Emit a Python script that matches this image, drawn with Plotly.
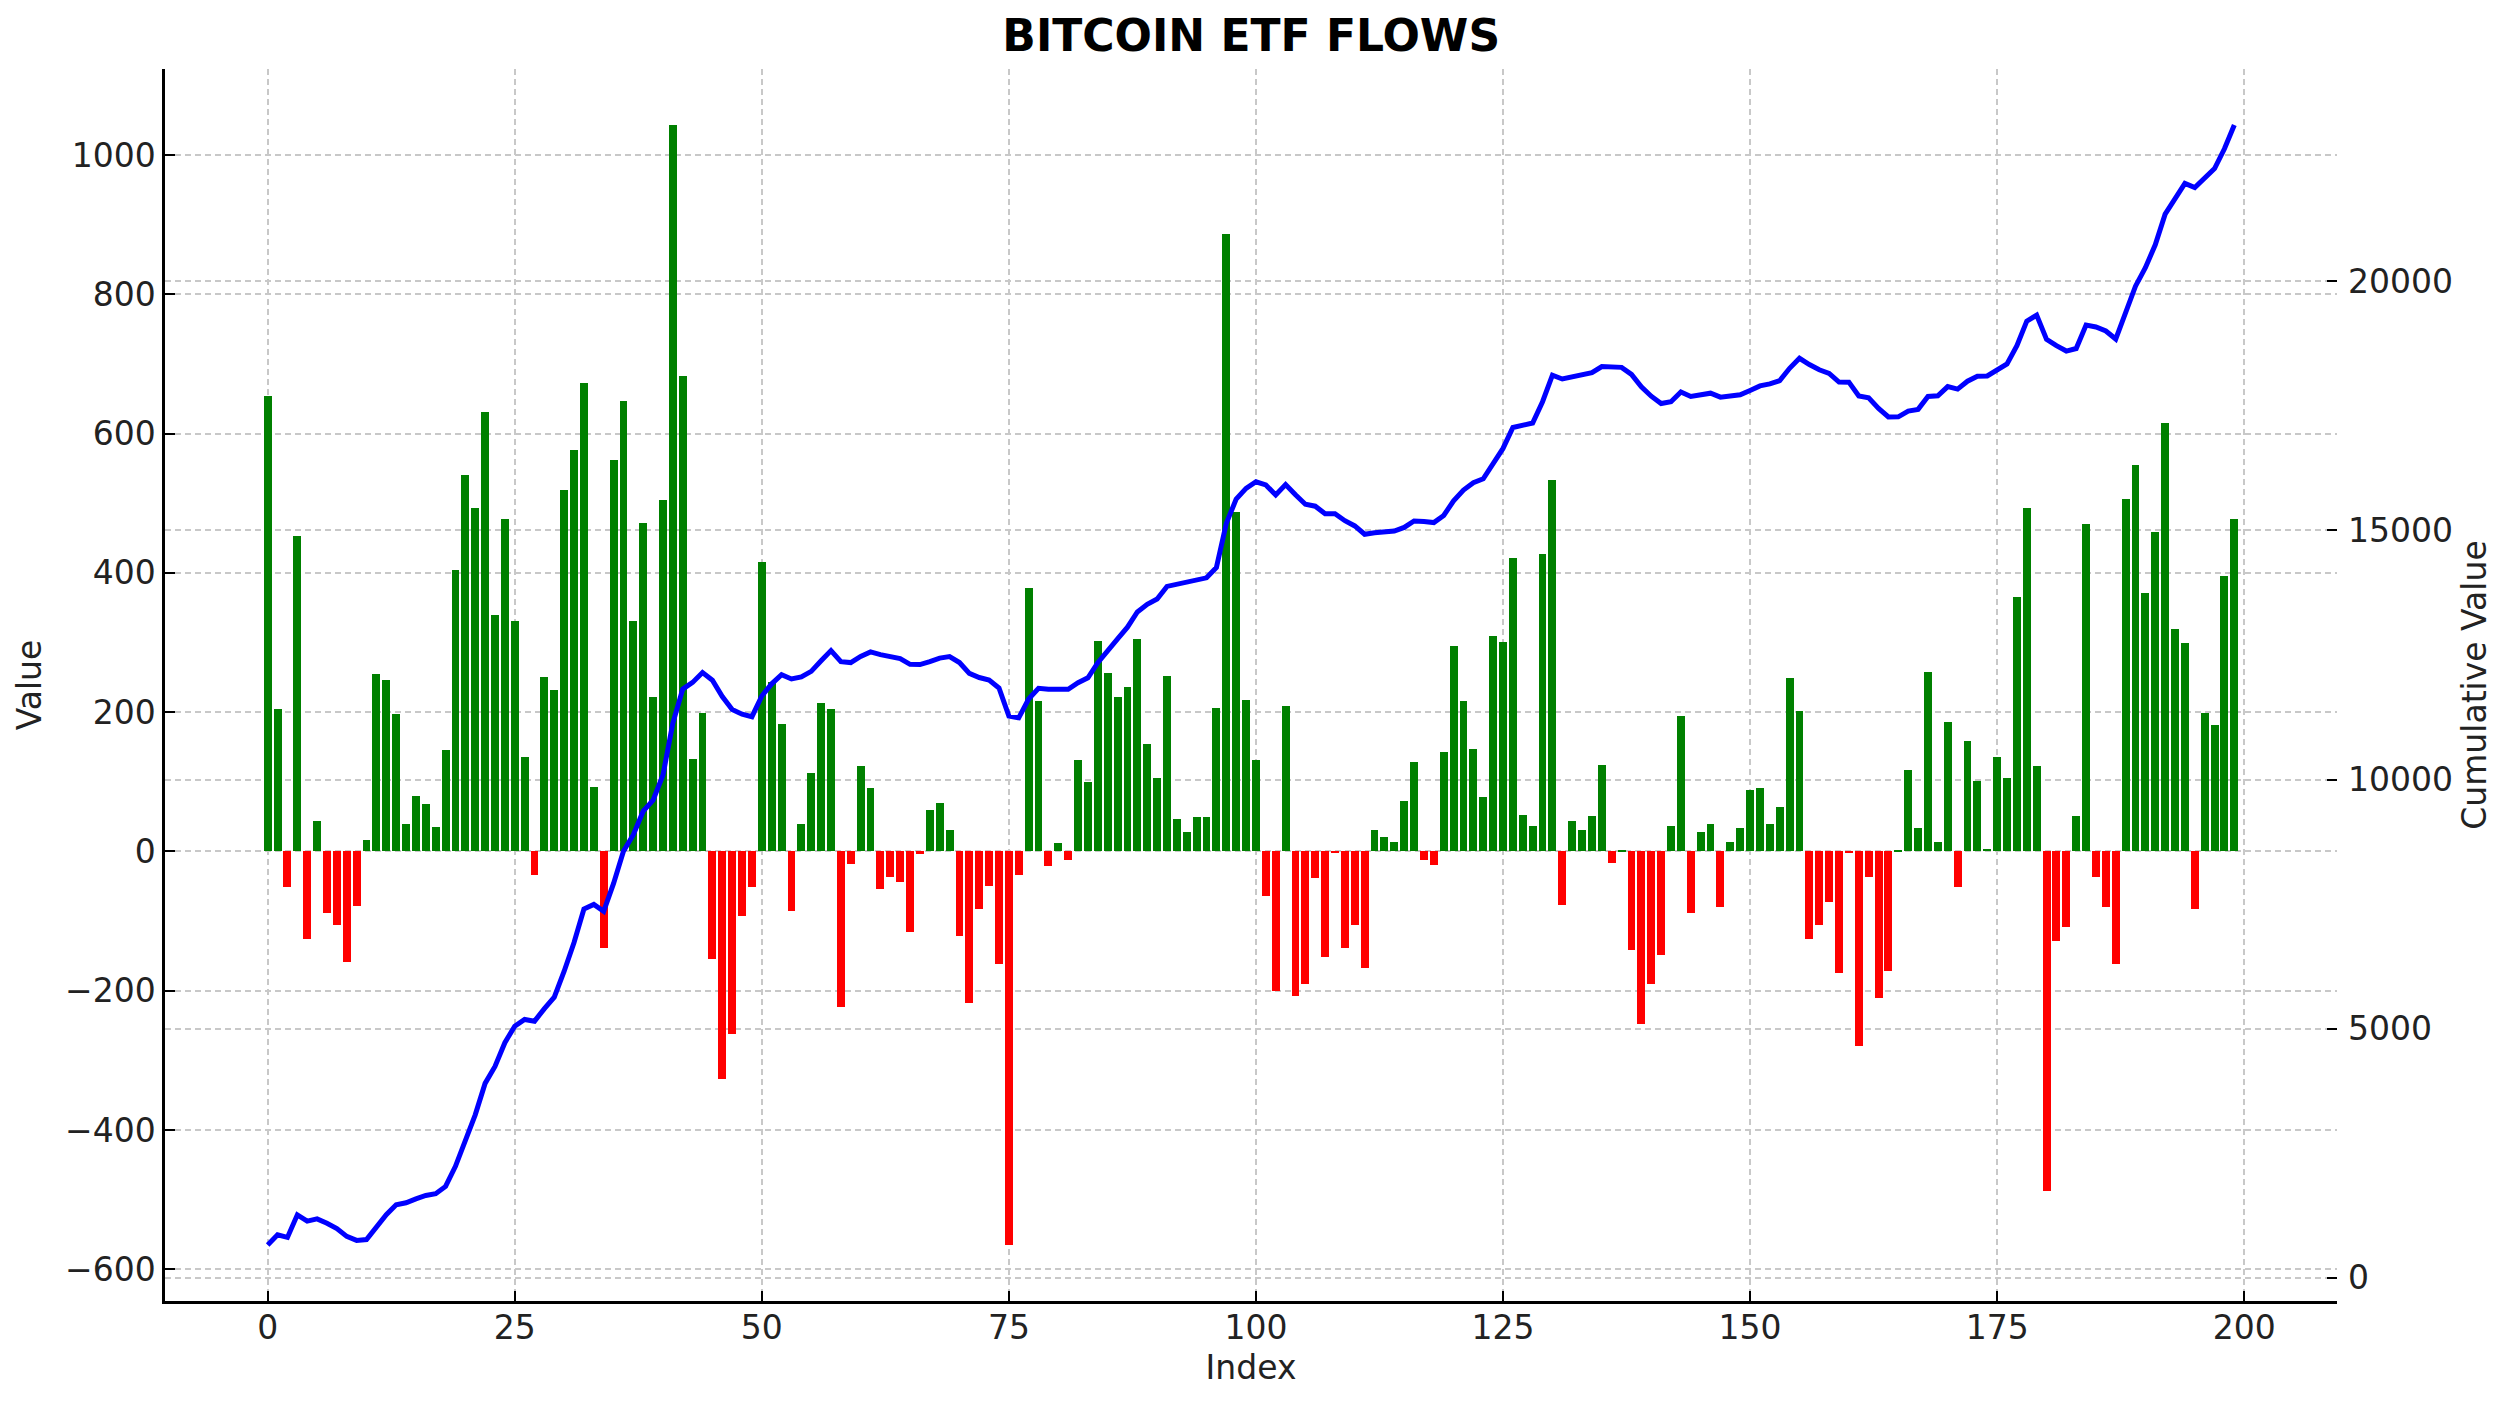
import numpy as np
import plotly.graph_objects as go

title = "BITCOIN ETF FLOWS"
x_label = "Index"
y_label = "Value"
y2_label = "Cumulative Value"

values = [
    654, 204, -51, 453, -126, 44, -88, -106, -158, -79,
    16, 255, 246, 198, 39, 80, 68, 35, 146, 404,
    541, 493, 631, 340, 477, 331, 135, -34, 251, 232,
    519, 576, 672, 93, -139, 562, 647, 331, 472, 222,
    505, 1043, 682, 133, 199, -154, -327, -262, -93, -51,
    416, 244, 183, -85, 40, 113, 213, 204, -224, -18,
    123, 91, -54, -36, -44, -115, -4, 60, 70, 31,
    -121, -218, -83, -49, -161, -565, -34, 378, 216, -21,
    12, -12, 132, 100, 302, 256, 222, 236, 305, 155,
    106, 252, 46, 28, 49, 49, 206, 887, 487, 218,
    131, -64, -200, 209, -207, -190, -38, -152, -1, -139,
    -105, -167, 31, 21, 13, 73, 128, -12, -20, 143,
    295, 216, 147, 78, 309, 301, 421, 53, 37, 427,
    533, -77, 44, 31, 51, 124, -17, 1, -141, -248,
    -190, -148, 36, 195, -89, 28, 39, -80, 13, 34,
    88, 91, 40, 64, 249, 201, -126, -105, -72, -175,
    -1, -279, -37, -211, -171, 1, 117, 34, 258, 13,
    186, -51, 159, 101, 4, 136, 106, 365, 493, 123,
    -487, -128, -108, 51, 470, -37, -80, -162, 506, 555,
    371, 459, 615, 319, 300, -82, 199, 181, 396, 478,
]
index = list(range(len(values)))
cumulative = np.cumsum(values)

x_ticks = [0, 25, 50, 75, 100, 125, 150, 175, 200]
y_ticks = [-600, -400, -200, 0, 200, 400, 600, 800, 1000]
y2_ticks = [0, 5000, 10000, 15000, 20000]

bar_colors = ["green" if v >= 0 else "red" for v in values]

FONT = "DejaVu Sans"
GRID = "#c8c8c8"
TXT = "#222222"

def padded(lo, hi, frac=0.05):
    span = hi - lo
    return [lo - frac * span, hi + frac * span]

bar_lo = min(0, min(values))
bar_hi = max(0, max(values))
y_range = padded(bar_lo, bar_hi)
y2_range = padded(float(cumulative.min()), float(cumulative.max()))
x_range = padded(-0.4, len(values) - 1 + 0.4)

fig = go.Figure()
fig.add_trace(go.Bar(
    x=index, y=values, width=0.8,
    marker=dict(color=bar_colors, line=dict(width=0)),
    showlegend=False,
))
fig.add_trace(go.Scatter(
    x=index, y=cumulative, mode="lines", yaxis="y2",
    line=dict(color="blue", width=5),
    showlegend=False,
))

axis_common = dict(
    ticks="inside", ticklen=10, tickwidth=2, tickcolor="black",
    tickfont=dict(family=FONT, size=33, color=TXT),
    showgrid=True, gridcolor=GRID, gridwidth=1.6, griddash="6px,4px",
    zeroline=False,
)

fig.update_layout(
    width=2515, height=1409,
    margin=dict(l=165, r=178, t=69, b=108),
    paper_bgcolor="white", plot_bgcolor="white",
    font=dict(family=FONT, color=TXT),
    title=dict(text="<b>" + title + "</b>", x=0.4975, xanchor="center",
               y=1 - 36 / 1409, yanchor="middle", yref="container",
               font=dict(family=FONT, size=44, color="black")),
    bargap=0,
    xaxis=dict(
        range=x_range, tickvals=x_ticks,
        showline=True, linecolor="black", linewidth=2.5,
        title=dict(text=x_label, font=dict(family=FONT, size=33, color=TXT), standoff=10),
        ticklabelstandoff=-4,
        **axis_common,
    ),
    yaxis=dict(
        range=y_range, tickvals=y_ticks,
        showline=True, linecolor="black", linewidth=2.5,
        title=dict(text=y_label, font=dict(family=FONT, size=33, color=TXT), standoff=14),
        **axis_common,
    ),
    yaxis2=dict(
        range=y2_range, tickvals=y2_ticks, overlaying="y", side="right",
        tickformat="d", ticklabelstandoff=10,
        showline=False,
        title=dict(text=y2_label, font=dict(family=FONT, size=33, color=TXT), standoff=10),
        **axis_common,
    ),
)

fig.write_html("out.html")
